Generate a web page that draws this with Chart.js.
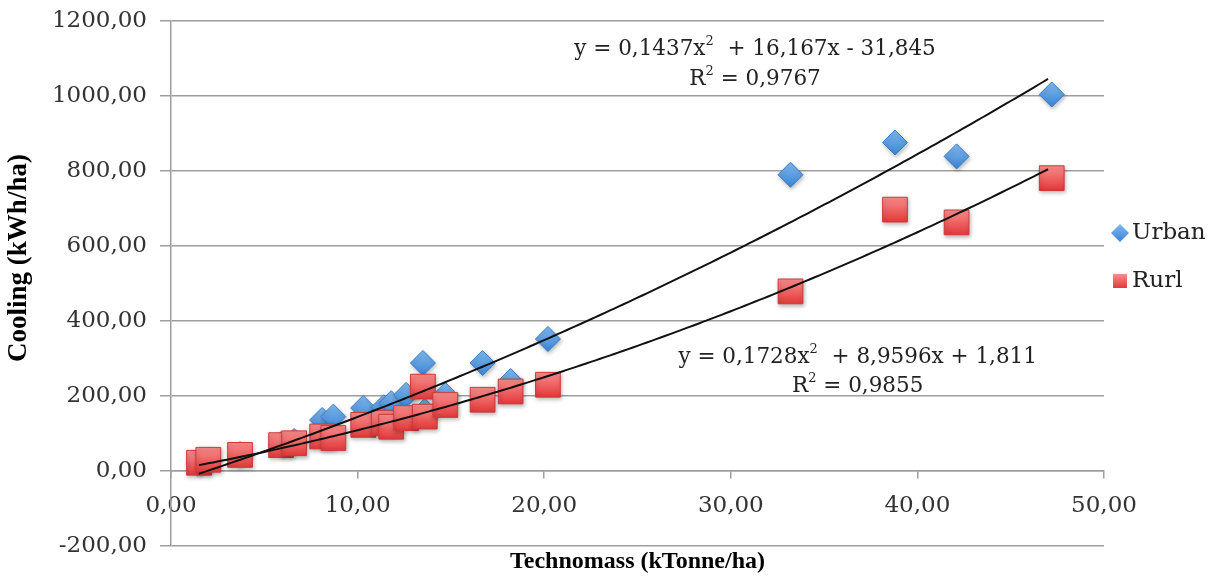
<!DOCTYPE html>
<html>
<head>
<meta charset="utf-8">
<script src="https://cdn.jsdelivr.net/npm/chart.js@4.4.1/dist/chart.umd.min.js"></script>
<style>
  html, body { margin: 0; padding: 0; background: #fff; }
</style>
</head>
<body>
<canvas id="myChart" width="1216" height="585"></canvas>
<script>
// technomass (kTonne/ha) per site, shared by both series
var technomass   = [1.5, 2.0, 3.7, 5.9, 6.6, 8.1, 8.7, 10.3, 11.4, 11.8, 12.6, 13.5, 13.6, 14.7, 16.7, 18.2, 20.2, 33.2, 38.8, 42.1, 47.2];
var urbanCooling = [22, 30, 45, 72, 80, 136, 145, 168, 170, 181, 203, 288, 160, 203, 288, 240, 352, 790, 876, 839, 1004];
var ruralCooling = [22, 30, 43, 69, 74, 92, 88, 123, 128, 118, 141, 225, 145, 176, 190, 212, 230, 479, 697, 663, 781];

var xTicks = [0, 10, 20, 30, 40, 50];
var yTicks = [-200, 0, 200, 400, 600, 800, 1000, 1200];

// polynomial trendlines: a*x^2 + b*x + c
var urbanFit = [0.1437, 16.167, -31.845];
var ruralFit = [0.1728, 8.9596, 1.811];
var urbanR2 = 0.9767;
var ruralR2 = 0.9855;

var GRID = '#9e9e9e';
var TICK_FONT = { family: 'DejaVu Serif', size: 23 };

function comma(v) { return String(v).replace('.', ','); }
function fmt2(v) { return v.toFixed(2).replace('.', ','); }

function points(xs, ys) {
  return xs.map(function (x, i) { return { x: x, y: ys[i] }; });
}

function fitCurve(coef, from, to, step) {
  var pts = [];
  for (var x = from; x <= to + 1e-9; x += step) {
    pts.push({ x: x, y: coef[0] * x * x + coef[1] * x + coef[2] });
  }
  return pts;
}

// vertical gradient for each marker, positioned through the y scale
function markerFill(top, bottom, r) {
  return function (c) {
    if (c.type !== 'data' || !c.chart.chartArea) return bottom;
    var py = c.chart.scales.y.getPixelForValue(c.raw.y);
    var g = c.chart.ctx.createLinearGradient(0, py - r, 0, py + r);
    g.addColorStop(0, top);
    g.addColorStop(1, bottom);
    return g;
  };
}

var xMin = Math.min.apply(null, technomass);
var xMax = Math.max.apply(null, technomass);

var markerShadow = {
  id: 'markerShadow',
  beforeDatasetDraw: function (chart, args) {
    if (args.meta.type === 'line') return;
    var ctx = chart.ctx;
    ctx.save();
    ctx.shadowColor = 'rgba(0,0,0,0.28)';
    ctx.shadowBlur = 4;
    ctx.shadowOffsetX = 1;
    ctx.shadowOffsetY = 2;
  },
  afterDatasetDraw: function (chart, args) {
    if (args.meta.type === 'line') return;
    chart.ctx.restore();
  }
};

function fitLines(coef, r2) {
  var c = coef[2];
  return [
    [['y = ' + comma(coef[0]) + 'x', false], ['2', true],
     ['  + ' + comma(coef[1]) + 'x ' + (c < 0 ? '- ' : '+ ') + comma(Math.abs(c)), false]],
    [['R', false], ['2', true], [' = ' + comma(r2), false]]
  ];
}

function drawRich(ctx, parts, cx, cy) {
  var base = '21.5px "DejaVu Serif"', sup = '13px "DejaVu Serif"';
  var w = 0;
  parts.forEach(function (p) { ctx.font = p[1] ? sup : base; w += ctx.measureText(p[0]).width; });
  var x = cx - w / 2;
  parts.forEach(function (p) {
    ctx.font = p[1] ? sup : base;
    ctx.fillText(p[0], x, p[1] ? cy - 8 : cy);
    x += ctx.measureText(p[0]).width;
  });
}

var fitLabels = {
  id: 'fitLabels',
  afterDatasetsDraw: function (chart) {
    var ctx = chart.ctx, sx = chart.scales.x, sy = chart.scales.y;
    ctx.save();
    ctx.fillStyle = '#222';
    ctx.textBaseline = 'middle';
    var u = fitLines(urbanFit, urbanR2), r = fitLines(ruralFit, ruralR2);
    drawRich(ctx, u[0], sx.getPixelForValue(31.3), sy.getPixelForValue(1123));
    drawRich(ctx, u[1], sx.getPixelForValue(31.3), sy.getPixelForValue(1043));
    drawRich(ctx, r[0], sx.getPixelForValue(36.8), sy.getPixelForValue(303));
    drawRich(ctx, r[1], sx.getPixelForValue(36.8), sy.getPixelForValue(226));
    ctx.restore();
  }
};

// y-axis caption, sitting a little above the middle of the plot
var yCaption = {
  id: 'yCaption',
  afterDraw: function (chart) {
    var ctx = chart.ctx, a = chart.chartArea;
    ctx.save();
    ctx.translate(19, a.top + 237);
    ctx.rotate(-Math.PI / 2);
    ctx.font = 'bold 27px "Liberation Serif"';
    ctx.fillStyle = '#000';
    ctx.textAlign = 'center';
    ctx.textBaseline = 'middle';
    ctx.fillText('Cooling (kWh/ha)', 0, 0);
    ctx.restore();
  }
};

var sideLegend = {
  id: 'sideLegend',
  afterDraw: function (chart) {
    var ctx = chart.ctx, a = chart.chartArea;
    var mx = a.right + 16, tx = a.right + 28;
    var y1 = a.top + 212, y2 = a.top + 260;
    ctx.save();
    // diamond
    var g = ctx.createLinearGradient(0, y1 - 9, 0, y1 + 9);
    g.addColorStop(0, '#80baf0'); g.addColorStop(1, '#3b84d2');
    ctx.fillStyle = g;
    ctx.beginPath();
    ctx.moveTo(mx - 9, y1); ctx.lineTo(mx, y1 - 9); ctx.lineTo(mx + 9, y1); ctx.lineTo(mx, y1 + 9);
    ctx.closePath(); ctx.fill();
    // square
    g = ctx.createLinearGradient(0, y2 - 7, 0, y2 + 7);
    g.addColorStop(0, '#fa8c8c'); g.addColorStop(1, '#e23a3a');
    ctx.fillStyle = g;
    ctx.fillRect(mx - 7, y2 - 7, 14, 14);
    ctx.fillStyle = '#222';
    ctx.font = '23px "DejaVu Serif"';
    ctx.textBaseline = 'middle';
    ctx.fillText(chart.data.datasets[2].label, tx, y1);
    ctx.fillText(chart.data.datasets[1].label, tx, y2);
    ctx.restore();
  }
};

var ctx = document.getElementById('myChart').getContext('2d');
var myChart = new Chart(ctx, {
  type: 'scatter',
  data: {
    datasets: [
      {
        type: 'line', label: 'fit urban', order: 0,
        data: fitCurve(urbanFit, xMin, xMax, 0.25),
        borderColor: '#111', borderWidth: 2, pointRadius: 0, fill: false,
        xAxisID: 'x', yAxisID: 'y'
      },
      {
        label: 'Rurl', order: 1,
        data: points(technomass, ruralCooling),
        pointStyle: 'rect', pointRadius: 17.5, pointHoverRadius: 17.5,
        backgroundColor: markerFill('#fa8c8c', '#e23a3a', 12),
        borderColor: '#cf3a3a', borderWidth: 1,
        xAxisID: 'x', yAxisID: 'y'
      },
      {
        label: 'Urban', order: 2,
        data: points(technomass, urbanCooling),
        pointStyle: 'rectRot', pointRadius: 12.5, pointHoverRadius: 12.5,
        backgroundColor: markerFill('#80baf0', '#3b84d2', 12.5),
        borderColor: '#3a7cc4', borderWidth: 1,
        xAxisID: 'x', yAxisID: 'y'
      },
      {
        type: 'line', label: 'fit rural', order: 0,
        data: fitCurve(ruralFit, xMin, xMax, 0.25),
        borderColor: '#111', borderWidth: 2, pointRadius: 0, fill: false,
        xAxisID: 'x', yAxisID: 'y'
      }
    ]
  },
  options: {
    responsive: false,
    animation: false,
    events: [],
    layout: { padding: { left: 0, right: 112, top: 21, bottom: 0 } },
    plugins: {
      legend: { display: false },
      tooltip: { enabled: false }
    },
    scales: {
      x: {
        type: 'linear',
        position: { y: 0 },
        min: 0, max: 50,
        afterBuildTicks: function (s) { s.ticks = xTicks.map(function (v) { return { value: v }; }); },
        afterFit: function (s) { s.height = 0; },
        grid: { drawOnChartArea: false, drawTicks: true, tickLength: 7, color: GRID, lineWidth: 1.5 },
        border: { display: true, color: GRID, width: 1.5 },
        ticks: {
          font: TICK_FONT, color: '#333', padding: 14, maxRotation: 0,
          callback: function (v) { return fmt2(v); }
        }
      },
      xt: {
        type: 'linear',
        position: 'bottom',
        afterFit: function (s) { s.height = 39; },
        grid: { display: false },
        border: { display: false },
        ticks: { display: false },
        title: {
          display: true, text: 'Technomass (kTonne/ha)', color: '#000',
          font: { family: 'Liberation Serif', size: 24, weight: 'bold' },
          padding: { top: 0, bottom: 9 }
        }
      },
      y: {
        type: 'linear',
        position: 'left',
        min: -200, max: 1200,
        afterBuildTicks: function (s) { s.ticks = yTicks.map(function (v) { return { value: v }; }); },
        afterFit: function (s) { s.width = 171; s.paddingTop = 0; s.paddingBottom = 0; },
        grid: { color: GRID, lineWidth: 1.5, tickLength: 11 },
        border: { color: GRID, width: 1.5 },
        ticks: {
          font: TICK_FONT, color: '#333', padding: 13,
          callback: function (v) { return fmt2(v); }
        }
      }
    }
  },
  plugins: [markerShadow, fitLabels, yCaption, sideLegend]
});
</script>
</body>
</html>
